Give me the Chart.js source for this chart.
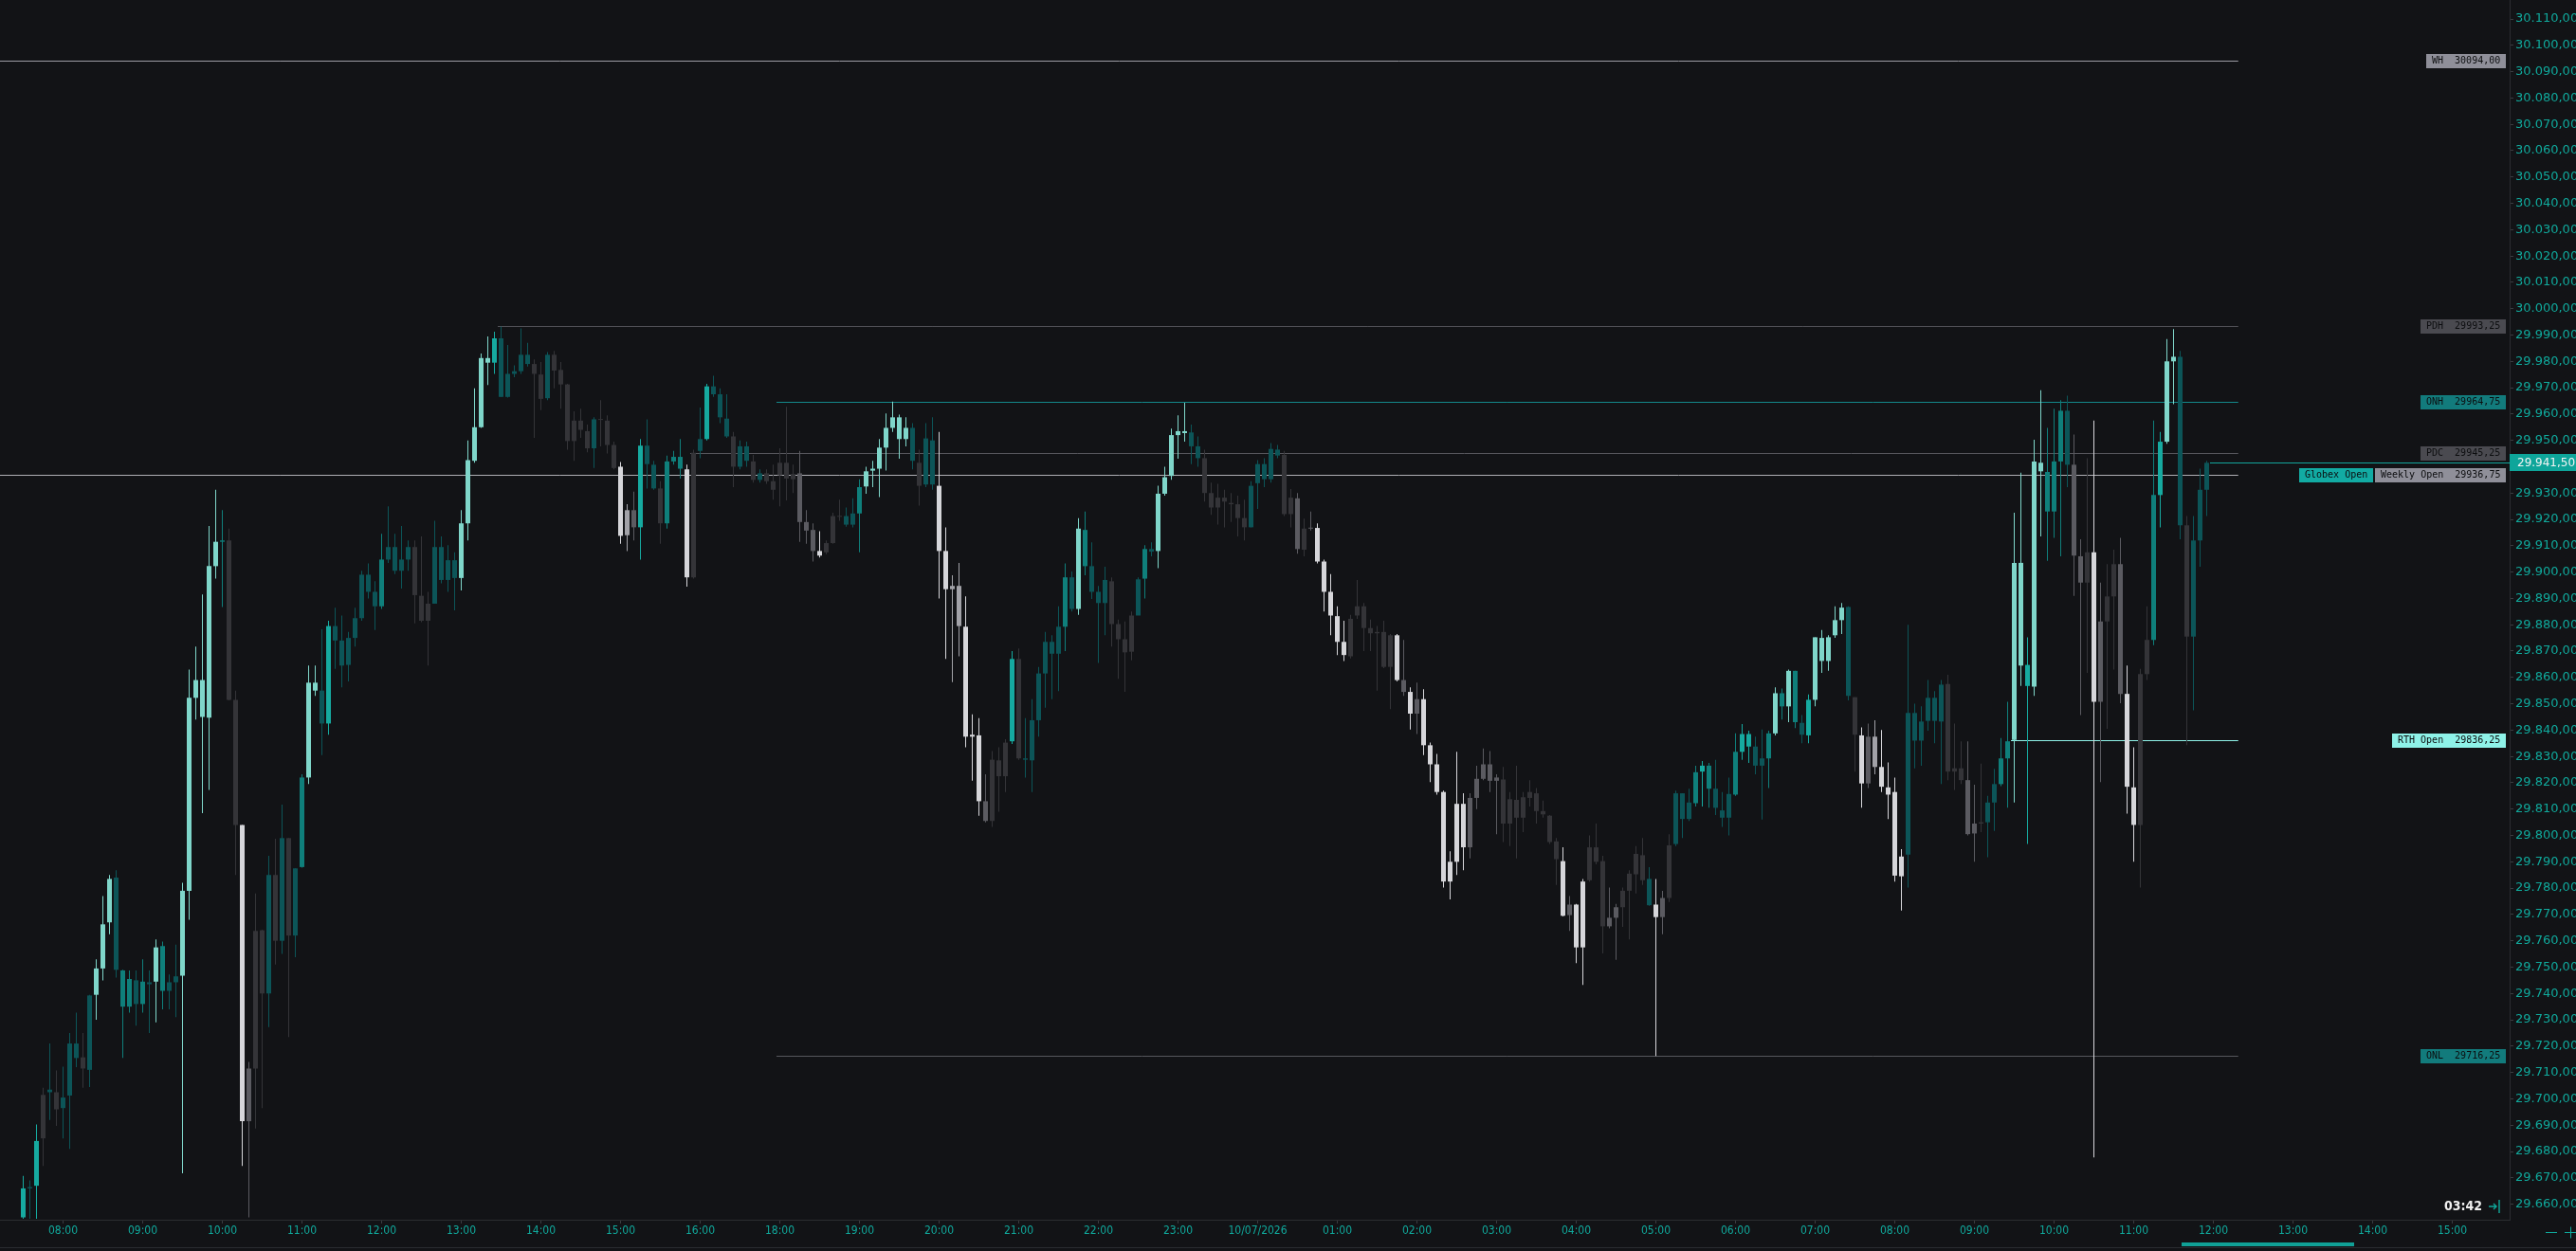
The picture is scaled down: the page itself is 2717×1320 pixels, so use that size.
<!DOCTYPE html>
<html>
<head>
<meta charset="utf-8">
<title>NQ 5m</title>
<script src="https://cdn.jsdelivr.net/npm/chart.js@4.4.1/dist/chart.umd.min.js"></script>
<style>
  html, body { margin: 0; padding: 0; background: #121316; overflow: hidden; }
  canvas { display: block; }
</style>
</head>
<body>
<canvas id="chart" width="2717" height="1320"></canvas>
<script>
// --- Data: 5 minute bars, index 0 = 08:00 bar ---
const firstBar = -6;

const opens = [
  29655, 29666, 29667, 29685, 29702.5, 29702.5,
  29696.5, 29701.25, 29721, 29715.75, 29711, 29739.5, 29749.5, 29767, 29784, 29748.75, 29735, 29745,
  29736, 29744.25, 29744.5, 29758, 29741, 29744.25, 29746.75, 29779, 29852.25, 29859, 29844.75, 29902.25,
  29911.5, 29912, 29851.5, 29804, 29691.5, 29711.5, 29764, 29740, 29785, 29760, 29799, 29762,
  29788, 29822, 29858, 29855, 29842.5, 29879.5, 29874, 29864.75, 29875, 29882.5, 29899, 29892.5,
  29887, 29904.75, 29909.5, 29900.5, 29904.75, 29909.5, 29891, 29881.5, 29888, 29909.5, 29897, 29904.5,
  29897.75, 29918.5, 29942.25, 29955, 29981.25, 29979.5, 29988.75, 29966.5, 29975.25, 29976.25, 29982.5, 29979,
  29975, 29966, 29982.5, 29976.75, 29971.25, 29949.75, 29957.5, 29953.5, 29947, 29958, 29957.5, 29948.25,
  29940, 29914, 29923.5, 29917, 29948, 29940.75, 29931.75, 29918.5, 29942, 29943.75, 29939, 29898,
  29946, 29950.5, 29970.5, 29967.5, 29958.25, 29951.5, 29940, 29947.75, 29942, 29935, 29937.5, 29934.5,
  29936.75, 29941.5, 29935.25, 29937.5, 29919, 29916, 29908, 29907.5, 29911, 29921.25, 29921.25, 29918,
  29922.25, 29932.5, 29938.5, 29939.25, 29947.25, 29954.75, 29958.75, 29950.5, 29954.75, 29941.5, 29933.25, 29950,
  29932.75, 29908, 29893.5, 29894.75, 29879.25, 29837.5, 29838, 29813, 29805.5, 29828.5, 29822.5, 29835.75,
  29867, 29829.25, 29828.5, 29843.75, 29861.5, 29873.5, 29869, 29879.25, 29898, 29886, 29916, 29902.25,
  29892.5, 29888.25, 29896.5, 29880.25, 29874.5, 29869.75, 29883.5, 29897.5, 29908.75, 29908, 29929.75, 29936.5,
  29952, 29953.5, 29953, 29947.75, 29943.25, 29930, 29924.5, 29928.25, 29926.25, 29925.75, 29920.5, 29917,
  29933.75, 29941, 29935.25, 29946.5, 29944.5, 29922, 29928, 29908.5, 29916.5, 29916.75, 29904, 29892.5,
  29883.25, 29873.5, 29868, 29883.5, 29887, 29878.75, 29876.75, 29877.25, 29864, 29876, 29859, 29854.5,
  29846.25, 29851.75, 29834.25, 29827, 29816.5, 29782.5, 29790, 29812, 29795.5, 29814.25, 29821.5, 29827,
  29820.75, 29821.25, 29804.5, 29813.5, 29806.75, 29814.25, 29816, 29809.25, 29807.5, 29797.75, 29790.25, 29769.75,
  29773.75, 29757.5, 29783, 29795.5, 29790.25, 29765.5, 29768.75, 29772.75, 29779, 29785.25, 29792.5, 29783.5,
  29773.75, 29769, 29776.25, 29796.75, 29816, 29806.25, 29812.25, 29824.25, 29826.5, 29817.75, 29809.5, 29806.75,
  29815.5, 29831.75, 29838.5, 29833.75, 29826.5, 29829.25, 29838.75, 29854, 29849, 29862.5, 29842.75, 29838,
  29851.5, 29875, 29866.25, 29876, 29881.75, 29886.75, 29852.5, 29838, 29819.75, 29837.5, 29826, 29818.25,
  29816.5, 29784.5, 29792.75, 29846.5, 29836, 29843.5, 29852.25, 29843.25, 29857.5, 29824.25, 29825.5, 29821,
  29800.75, 29804.5, 29805, 29812.5, 29819.5, 29829.25, 29836.25, 29903.5, 29864.75, 29856.5, 29941.5, 29938,
  29923, 29942, 29961.25, 29940.75, 29906, 29896, 29907.5, 29850.75, 29881.25, 29890.75, 29903, 29853.75,
  29818.25, 29804, 29861.25, 29874.25, 29929.25, 29949.5, 29980, 29981.75, 29917.75, 29875.5, 29912, 29931.25
];

const highs = [
  29670.75, 29669, 29690.25, 29704.25, 29721, 29710.75,
  29712.25, 29725, 29732.75, 29725, 29739.5, 29753, 29777, 29785, 29786.75, 29749, 29748.75, 29748.75,
  29753, 29748.75, 29760.5, 29759.75, 29747.25, 29758.5, 29782, 29863, 29871.75, 29891.5, 29917.5, 29931.25,
  29923.5, 29916.5, 29855, 29804, 29714, 29778, 29764.25, 29792.25, 29798.75, 29811.75, 29799, 29787.5,
  29823.25, 29864.5, 29864.5, 29878.25, 29881.5, 29886.5, 29883.5, 29877.25, 29886.5, 29900.5, 29903.25, 29896.5,
  29914.5, 29925, 29914.5, 29917.5, 29912, 29912, 29913.5, 29892.5, 29919.5, 29913.5, 29910.25, 29907.5,
  29923.5, 29950, 29969.75, 29983, 29989.5, 29991.25, 29993.25, 29986.25, 29978.5, 29992.5, 29987, 29980.75,
  29979.75, 29983.5, 29984, 29979.75, 29971.5, 29961, 29962, 29956, 29958.75, 29965.25, 29959.5, 29949.5,
  29941.75, 29925.75, 29930.5, 29950.5, 29958, 29942.25, 29934.5, 29944.25, 29946, 29950.5, 29940.75, 29946.5,
  29962.5, 29971.5, 29974.5, 29969.75, 29967.5, 29953.25, 29950, 29949.5, 29944.5, 29939, 29939, 29940.75,
  29947, 29962.75, 29940.75, 29946, 29923.5, 29918.5, 29915.5, 29912, 29922.5, 29927.5, 29924.5, 29928,
  29935.25, 29940, 29942.25, 29950.5, 29960.25, 29964.75, 29959.75, 29958.75, 29956.5, 29946.5, 29956.5, 29958.75,
  29953.25, 29917, 29898.75, 29903.5, 29890.75, 29846, 29844.5, 29823.25, 29832, 29833.5, 29836.5, 29870,
  29871, 29844.5, 29851.75, 29864, 29877.25, 29876, 29887, 29903.25, 29900.25, 29920.5, 29923, 29911.25,
  29894.75, 29902, 29898, 29882, 29881.25, 29885, 29898, 29910.25, 29911.25, 29932.75, 29940, 29954.5,
  29959.5, 29964.25, 29956, 29951.5, 29946.5, 29934, 29933.5, 29931.25, 29930, 29929, 29927.5, 29934.5,
  29942.5, 29943.25, 29949, 29948.25, 29946, 29931.5, 29930, 29920.25, 29923, 29918.5, 29904.75, 29899.25,
  29887, 29881.5, 29883.75, 29897, 29888.25, 29882, 29879.5, 29881.5, 29876.5, 29876.5, 29874.25, 29856.25,
  29858, 29855.5, 29835.25, 29831, 29817, 29794, 29831.75, 29816, 29816, 29826.5, 29833, 29832,
  29823.25, 29826, 29816.5, 29826.5, 29816.5, 29821, 29818, 29813.25, 29807.75, 29799, 29795.5, 29777,
  29774, 29783.5, 29800, 29804.5, 29792.25, 29780.25, 29774, 29780.25, 29786.75, 29796, 29799, 29788,
  29783.5, 29779, 29800.5, 29817, 29816, 29817.75, 29826.5, 29828.25, 29827.5, 29828.75, 29816.5, 29822,
  29838.75, 29842.25, 29839.75, 29837.5, 29840.25, 29839.75, 29856.25, 29855.75, 29863, 29862.5, 29845.75, 29853.5,
  29875.25, 29878, 29876, 29887, 29888.25, 29887, 29852.5, 29841, 29842.5, 29843.75, 29840, 29827.75,
  29822, 29794.75, 29880, 29850, 29849, 29859, 29854.75, 29859, 29861, 29842.5, 29835.75, 29835.75,
  29819.25, 29827.25, 29815, 29825.25, 29837, 29850.75, 29922.5, 29937.75, 29875.25, 29950.25, 29969, 29954.75,
  29962, 29965.25, 29967, 29952.25, 29912.5, 29943.25, 29957.5, 29896, 29903, 29908.5, 29913, 29864.5,
  29833.5, 29863.25, 29887, 29957.5, 29953.25, 29988.5, 29992.25, 29984, 29921.25, 29921.25, 29939.25, 29942.25
];

const lows = [
  29654.5, 29654.5, 29654.5, 29674.5, 29692, 29689.75,
  29685, 29681, 29712, 29704.25, 29704.5, 29730, 29745, 29762.5, 29746, 29715.5, 29732.75, 29727.75,
  29732.75, 29725, 29729, 29734, 29734, 29731, 29671.75, 29768, 29844, 29808.5, 29817.25, 29897.5,
  29886.75, 29851.25, 29785, 29674.5, 29655, 29688.75, 29696.5, 29727.25, 29751, 29755, 29723.5, 29753.75,
  29787.75, 29819.5, 29853, 29830.5, 29838.25, 29863.25, 29856.25, 29858.5, 29871.75, 29881.5, 29890, 29878,
  29886, 29903.5, 29899.25, 29893.75, 29900.5, 29880.5, 29881, 29864.5, 29888, 29895.75, 29892.5, 29885.5,
  29893, 29912, 29941.5, 29954.75, 29971, 29975.25, 29966.5, 29966.25, 29974, 29975.25, 29978, 29951,
  29961.5, 29965.25, 29969.75, 29962, 29946.5, 29942.25, 29951, 29945.5, 29939.5, 29947.75, 29945, 29939,
  29910.75, 29908, 29912, 29904.75, 29931.75, 29931.25, 29910.75, 29916.5, 29940.75, 29935.5, 29894.5, 29897.5,
  29943.25, 29950, 29966.5, 29956.5, 29951, 29932.25, 29939, 29940, 29934, 29934, 29933.5, 29927.5,
  29925, 29927.25, 29930, 29911.5, 29910.75, 29904, 29905.5, 29906.75, 29910.75, 29919.5, 29917.25, 29917,
  29907.5, 29929.75, 29932.25, 29928.5, 29938.5, 29953.25, 29943, 29947.75, 29939, 29925.25, 29932.25, 29931.25,
  29890, 29867, 29858.25, 29868, 29833.5, 29820.75, 29807.5, 29805, 29803.25, 29809, 29816.5, 29834.75,
  29828.75, 29822, 29816.5, 29837.5, 29848.5, 29851.75, 29854.75, 29870, 29885, 29883.75, 29898.75, 29889.75,
  29865.5, 29876, 29871.75, 29859.5, 29854.5, 29866.5, 29883.75, 29890, 29906, 29901.5, 29929, 29935,
  29943, 29949.5, 29941, 29940, 29926.75, 29921.75, 29918, 29917, 29919, 29913.5, 29912, 29917,
  29924, 29932.25, 29934, 29943.25, 29921.25, 29917, 29907, 29906, 29915.75, 29903.25, 29885, 29876,
  29868.5, 29866.25, 29867.25, 29882.25, 29870, 29870, 29855, 29863.5, 29848, 29858.5, 29853, 29840.25,
  29838.5, 29830.5, 29820.25, 29815.5, 29780.25, 29775.75, 29785, 29786.75, 29791.25, 29810, 29821, 29816.5,
  29800.5, 29797.5, 29796, 29791.25, 29801.25, 29811, 29804.5, 29806.75, 29796.75, 29781.25, 29769.25, 29763.75,
  29751.5, 29743.25, 29782.5, 29789, 29755.25, 29764.75, 29752.75, 29765.25, 29760.5, 29778, 29781.25, 29773.25,
  29716.25, 29762.5, 29774.75, 29796, 29799, 29805.5, 29811, 29811, 29810.5, 29807.75, 29803.25, 29800,
  29815, 29828.75, 29827.5, 29823.25, 29806, 29818, 29838, 29844, 29843, 29840.75, 29835, 29835,
  29849, 29861.75, 29862.5, 29875, 29876.5, 29851.25, 29824.25, 29810.5, 29818, 29823.25, 29816.5, 29806.25,
  29782.5, 29771.5, 29780.25, 29825.5, 29826.5, 29839.75, 29835, 29819.5, 29821, 29817.25, 29819.5, 29800,
  29790, 29801.25, 29791.75, 29801.75, 29818.75, 29810.5, 29812.5, 29856.75, 29796.75, 29853, 29913.5, 29904.25,
  29913, 29906, 29932.25, 29891, 29845.75, 29861.75, 29677.75, 29820.25, 29840.5, 29863, 29850.25, 29808.25,
  29790, 29780.25, 29859, 29872.25, 29917, 29948.75, 29963.75, 29912.5, 29834.25, 29847.5, 29902, 29921.25
];

const closes = [
  29666, 29666.5, 29684, 29701.5, 29703.5, 29696,
  29700.5, 29721, 29715.5, 29711.5, 29739.25, 29749.5, 29766.25, 29783.5, 29749, 29735, 29745.5, 29736,
  29744.5, 29743.5, 29757.5, 29741, 29744.25, 29746.5, 29779, 29852.25, 29859, 29845, 29902.25, 29911.5,
  29912, 29851.5, 29804, 29691.5, 29711.5, 29763.75, 29740, 29785, 29760, 29799, 29762, 29787.5,
  29822, 29858, 29855, 29842.5, 29879.5, 29874, 29864.5, 29875, 29882.5, 29899, 29892.5, 29887,
  29904.75, 29909.5, 29900.5, 29904.75, 29909.5, 29891.25, 29881.5, 29888, 29909.5, 29897, 29904.5, 29897.75,
  29918.5, 29942.5, 29955, 29981.25, 29979.5, 29988.75, 29966.5, 29975.25, 29976.25, 29982.5, 29979, 29975.25,
  29965.75, 29982.5, 29976.5, 29971.25, 29949.75, 29957.5, 29954, 29947, 29958, 29957.75, 29948.25, 29939.5,
  29913.75, 29923.5, 29917, 29948, 29941, 29931.75, 29918.5, 29942, 29943.75, 29939.25, 29898, 29945.25,
  29950.5, 29970.5, 29967.5, 29958.75, 29951.5, 29940, 29947.75, 29942.25, 29935, 29937.5, 29934.5, 29931.25,
  29941.5, 29935.5, 29937.25, 29919, 29915.75, 29908, 29906.25, 29911, 29921.25, 29921, 29918, 29922.25,
  29932.25, 29938.25, 29939.25, 29947.25, 29954.75, 29958.75, 29950.5, 29954.75, 29942.25, 29932.75, 29950.75, 29933.25,
  29908, 29893.5, 29894.75, 29879.5, 29837.5, 29838.25, 29813, 29805.5, 29828.75, 29822.5, 29835.25, 29867,
  29829.25, 29828.75, 29843.75, 29861.5, 29873.5, 29869, 29879.25, 29898, 29886, 29916.5, 29902.25, 29892.5,
  29888.25, 29897, 29880.25, 29874.5, 29869.5, 29883.5, 29897.25, 29908.75, 29907.75, 29929.75, 29936, 29952,
  29953.5, 29952.75, 29947.75, 29943.25, 29930, 29924.5, 29928.25, 29926.75, 29925.75, 29920.5, 29917, 29932.75,
  29941, 29935.25, 29946.75, 29944.25, 29922, 29928.25, 29908.75, 29916.5, 29916.75, 29904, 29892.5, 29883.5,
  29873.5, 29868.5, 29882.25, 29887, 29878.75, 29876.75, 29877.25, 29864, 29876, 29859, 29854.5, 29846.25,
  29851.75, 29834.25, 29827, 29816.5, 29782.5, 29790, 29812, 29795.5, 29814.25, 29821.5, 29827, 29820.75,
  29822, 29804.5, 29813.75, 29806.75, 29814.5, 29816.5, 29809.25, 29808, 29797.5, 29791, 29769.5, 29773.75,
  29757.5, 29782.5, 29795.5, 29790, 29765.5, 29768.75, 29772.75, 29779, 29785.5, 29793, 29783, 29773.5,
  29769, 29776.25, 29796.25, 29816, 29806.25, 29812.5, 29824, 29826.5, 29817.75, 29810.5, 29806.75, 29815.75,
  29831.75, 29838.5, 29833.75, 29826.5, 29829.25, 29838.75, 29854, 29849, 29862.5, 29843, 29838.25, 29851.5,
  29875.25, 29866.25, 29875.25, 29881.75, 29886.5, 29853, 29838.25, 29819.75, 29837.5, 29826, 29818.5, 29815.5,
  29784.75, 29792, 29846.5, 29836, 29843.25, 29852.25, 29843.5, 29857.25, 29824.25, 29825.5, 29821, 29800.5,
  29804.5, 29805, 29812.5, 29819.5, 29829.25, 29835.75, 29903.5, 29864.5, 29856.75, 29942, 29938.25, 29923,
  29942, 29961.25, 29940.75, 29906.25, 29896, 29907.5, 29850.75, 29881.25, 29890.75, 29903, 29853.75, 29818.5,
  29804, 29861.25, 29874.25, 29929.25, 29949.5, 29980, 29981.75, 29917.75, 29875.5, 29912, 29931.25, 29941.5
];

// bar delta strength: + buyers (teal shades), - sellers (grey shades)
const deltaLevels = [
  3, 1, 3, -1, 1, -1,
  1, 1, 1, -1, 1, 4, 4, 4, 1, 2, 2, 1,
  2, 1, 4, 2, 1, 1, 4, 4, 4, 4, 4, 4,
  2, -1, -1, -4, -2, -1, -1, 1, -1, 1, -1, 1,
  2, 4, 4, 1, 3, 1, 1, 1, 1, 1, 1, 1,
  2, 1, 1, 1, 1, -1, -1, -1, 1, 1, 1, 1,
  4, 4, 4, 4, 4, 3, 1, 1, 1, 1, 1, -1,
  -1, 1, -1, -1, -1, -1, -1, -1, 1, -1, -1, -1,
  -4, -3, -2, 3, 1, 1, -1, 2, 2, 2, -4, -1,
  1, 3, 1, 1, 1, -1, 1, 1, -1, 1, -1, -1,
  -1, -1, -1, -2, -2, -2, -4, -1, -1, -1, 1, 1,
  2, 4, 4, 4, 4, 4, 4, 4, 1, -1, 1, 1,
  -4, -4, -3, -3, -4, -4, -4, -2, -1, -1, -1, 3,
  -1, 1, 1, 1, 1, 1, 1, 2, 1, 4, 2, 1,
  1, 1, -1, -1, -1, -1, 1, 2, 1, 4, 4, 4,
  4, 4, 1, 1, -1, -1, -1, -1, -1, -1, -1, 1,
  1, 1, 1, 1, -1, -1, -2, -1, -2, -4, -4, -4,
  -4, -4, -1, -1, -1, -1, -1, -1, -1, -4, -2, -4,
  -2, -4, -4, -4, -4, -4, -4, -4, -2, -2, -2, -2,
  -2, -1, -1, -1, -1, -1, -1, -1, -1, -1, -4, -2,
  -4, -4, -1, -1, -1, -2, -2, -1, -1, -1, -1, 1,
  -4, -2, -1, 1, 1, 1, 2, 3, 2, 1, 1, 1,
  2, 3, 3, 1, 1, 2, 4, 2, 4, 2, 1, 3,
  4, 4, 4, 4, 4, 1, -1, -4, -2, -3, -4, -4,
  -4, -4, 1, 1, 1, 1, 1, 1, -1, -1, -1, -2,
  -2, -1, 1, 1, 2, 2, 4, 4, 3, 4, 4, 2,
  2, 2, 1, -2, -2, -1, -4, -2, -1, -1, -2, -4,
  -4, -1, -1, 2, 3, 4, 4, 1, -1, 1, 1, 1
];

// time axis (bar index of each label)
const timeTickBars = [0, 12, 24, 36, 48, 60, 72, 84, 96, 108, 120, 132, 144, 156, 168, 180,
  192, 204, 216, 228, 240, 252, 264, 276, 288, 300, 312, 324, 336, 348, 360];
const timeTickLabels = ['08:00', '09:00', '10:00', '11:00', '12:00', '13:00', '14:00', '15:00', '16:00',
  '18:00', '19:00', '20:00', '21:00', '22:00', '23:00', '10/07/2026', '01:00', '02:00', '03:00',
  '04:00', '05:00', '06:00', '07:00', '08:00', '09:00', '10:00', '11:00', '12:00', '13:00', '14:00', '15:00'];

// price axis
const priceMin = 29654.1;
const priceMax = 30117.2;
const priceTickFirst = 29660;
const priceTickLast = 30110;
const priceTickStep = 10;

// key levels
const levelNames = ['WH', 'PDH', 'ONH', 'PDC', 'Weekly Open', 'RTH Open', 'ONL'];
const levelPrices = [30094.00, 29993.25, 29964.75, 29945.25, 29936.75, 29836.25, 29716.25];
const levelStartBars = [null, 65.5, 107.5, 94.5, null, 293.5, 107.5];
const levelEndBar = 327.75;
const globexOpenTag = 'Globex Open';
const lastPrice = 29941.50;
const barCountdown = '03:42';

// --- Styles ---
const BG = '#121316';
const TEAL_TEXT = '#10a99c';
const shadeColors = {
  '4': '#7fd6ca', '3': '#16aaa0', '2': '#0f7f7b', '1': '#0c5558',
  '-1': '#343438', '-2': '#5b5b61', '-3': '#a2a2a8', '-4': '#d6d6da'
};
const levelLineColors = ['#9c9ca4', '#505056', '#13898a', '#56565c', '#aeaeb4', '#8ef2e8', '#56565c'];
const levelBoxColors = ['#8f8f99', '#4a4a50', '#127b7c', '#4a4a50', '#8f8f99', '#8ef2e8', '#127b7c'];
const globexBoxColor = '#12aba3';

function fmtAxis(v) {
  const parts = v.toFixed(2).split('.');
  return parts[0].replace(/\B(?=(\d{3})+(?!\d))/g, '.') + ',' + parts[1];
}
function fmtLevel(v) {
  return v.toFixed(2).replace('.', ',');
}

const n = Math.min(opens.length, highs.length, lows.length, closes.length, deltaLevels.length);
const bodyData = [], wickData = [], barColors = [];
for (let i = 0; i < n; i++) {
  bodyData.push({ x: firstBar + i, y: [opens[i], closes[i]] });
  wickData.push({ x: firstBar + i, y: [lows[i], highs[i]] });
  barColors.push(shadeColors[String(deltaLevels[i])]);
}

const priceTicks = [];
for (let v = priceTickFirst; v <= priceTickLast; v += priceTickStep) priceTicks.push(v);

// --- Plugin: background, levels, labels, price tag ---
const overlay = {
  id: 'overlay',
  beforeDraw(chart) {
    const ctx = chart.ctx;
    ctx.save();
    ctx.fillStyle = BG;
    ctx.fillRect(0, 0, chart.width, chart.height);
    ctx.restore();
  },
  beforeDatasetsDraw(chart) {
    const { ctx, chartArea: area, scales: { x, y } } = chart;
    ctx.save();
    ctx.beginPath();
    ctx.rect(area.left, area.top, area.right - area.left, area.bottom - area.top);
    ctx.clip();
    ctx.lineWidth = 1;
    levelNames.forEach((name, i) => {
      const py = Math.round(y.getPixelForValue(levelPrices[i])) + 0.5;
      const x0 = levelStartBars[i] === null ? area.left : x.getPixelForValue(levelStartBars[i]);
      const x1 = x.getPixelForValue(levelEndBar);
      ctx.strokeStyle = levelLineColors[i];
      ctx.beginPath();
      ctx.moveTo(x0, py);
      ctx.lineTo(x1, py);
      ctx.stroke();
    });
    // last price line
    const lp = Math.round(y.getPixelForValue(lastPrice)) + 0.5;
    ctx.strokeStyle = '#12a59c';
    ctx.beginPath();
    ctx.moveTo(x.getPixelForValue(firstBar + n - 0.5), lp);
    ctx.lineTo(area.right, lp);
    ctx.stroke();
    ctx.restore();
  },
  afterDraw(chart) {
    const { ctx, chartArea: area, scales: { y } } = chart;
    ctx.save();
    ctx.font = '10px "DejaVu Sans Mono", monospace';
    ctx.textBaseline = 'middle';
    ctx.textAlign = 'left';
    const boxH = 15;
    levelNames.forEach((name, i) => {
      const py = Math.round(y.getPixelForValue(levelPrices[i]));
      const text = name + '  ' + fmtLevel(levelPrices[i]);
      const w = Math.round(ctx.measureText(text).width) + 12;
      const bx = area.right - 4 - w;
      const by = py - 7;
      ctx.fillStyle = levelBoxColors[i];
      ctx.fillRect(bx, by, w, boxH);
      ctx.fillStyle = '#0c0d0f';
      ctx.fillText(text, bx + 6, py + 0.5);
      if (name === 'Weekly Open') {
        const gw = Math.round(ctx.measureText(globexOpenTag).width) + 12;
        const gx = bx - 2 - gw;
        ctx.fillStyle = globexBoxColor;
        ctx.fillRect(gx, by, gw, boxH);
        ctx.fillStyle = '#0c0d0f';
        ctx.fillText(globexOpenTag, gx + 6, py + 0.5);
      }
    });

    // last price tag on the axis
    const lp = Math.round(y.getPixelForValue(lastPrice));
    ctx.fillStyle = '#0ea59a';
    ctx.fillRect(area.right, lp - 9, chart.width - area.right, 18);
    ctx.fillStyle = '#f2f4f4';
    ctx.font = '12px "DejaVu Sans", sans-serif';
    ctx.fillText(fmtAxis(lastPrice), area.right + 8, lp + 0.5);

    // bar countdown
    ctx.font = 'bold 14px "DejaVu Sans Condensed", "Liberation Sans Narrow", "DejaVu Sans", sans-serif';
    ctx.textAlign = 'right';
    ctx.fillStyle = '#f0f0f0';
    ctx.fillText(barCountdown, area.right - 29, area.bottom - 14);
    ctx.strokeStyle = TEAL_TEXT;
    ctx.lineWidth = 1.4;
    const ay = area.bottom - 14;
    const ax = area.right - 22;
    ctx.beginPath();
    ctx.moveTo(ax, ay); ctx.lineTo(ax + 8, ay);
    ctx.moveTo(ax + 5, ay - 3); ctx.lineTo(ax + 8, ay); ctx.lineTo(ax + 5, ay + 3);
    ctx.moveTo(ax + 11, ay - 7); ctx.lineTo(ax + 11, ay + 7);
    ctx.stroke();

    // zoom controls
    ctx.lineWidth = 1;
    ctx.strokeStyle = TEAL_TEXT;
    const zy = area.bottom + 13.5;
    ctx.beginPath();
    ctx.moveTo(area.right + 38, zy); ctx.lineTo(area.right + 50, zy);
    ctx.moveTo(area.right + 58, zy); ctx.lineTo(area.right + 70, zy);
    ctx.moveTo(area.right + 64.5, zy - 6); ctx.lineTo(area.right + 64.5, zy + 6);
    ctx.stroke();

    // scrollbar
    ctx.fillStyle = '#2a2c30';
    ctx.fillRect(0, chart.height - 4, chart.width, 1);
    ctx.fillStyle = '#10a096';
    ctx.fillRect(2301, chart.height - 9, 182, 4);
    ctx.restore();
  }
};

new Chart(document.getElementById('chart'), {
  type: 'bar',
  data: {
    datasets: [
      {
        label: 'body',
        data: bodyData,
        backgroundColor: barColors,
        barThickness: 5,
        minBarLength: 1,
        borderWidth: 0,
        inflateAmount: 0,
        grouped: false
      },
      {
        label: 'wick',
        data: wickData,
        backgroundColor: barColors,
        barThickness: 1,
        minBarLength: 1,
        borderWidth: 0,
        inflateAmount: 0,
        grouped: false
      }
    ]
  },
  options: {
    responsive: false,
    animation: false,
    devicePixelRatio: 1,
    layout: { padding: 0 },
    plugins: { legend: { display: false }, tooltip: { enabled: false } },
    scales: {
      x: {
        type: 'linear',
        offset: false,
        min: -9.5,
        max: -9.5 + 2647 / 7,
        grid: { offset: false, drawOnChartArea: false, drawTicks: true, tickLength: 4, color: '#3a3c40' },
        border: { color: '#2b2d31' },
        ticks: {
          color: TEAL_TEXT,
          font: { family: '"DejaVu Sans Condensed", "Liberation Sans Narrow", "DejaVu Sans"', size: 12 },
          padding: 1,
          autoSkip: false,
          maxRotation: 0,
          callback: (value) => {
            const k = timeTickBars.indexOf(value);
            return k >= 0 ? timeTickLabels[k] : '';
          }
        },
        afterBuildTicks: (scale) => { scale.ticks = timeTickBars.map(v => ({ value: v })); },
        afterFit: (scale) => {
          scale.height = 33;
          scale.paddingLeft = 0;
          scale.paddingRight = 0;
        }
      },
      y: {
        type: 'linear',
        position: 'right',
        min: priceMin,
        max: priceMax,
        beginAtZero: false,
        grid: { drawOnChartArea: false, drawTicks: true, tickLength: 4, color: '#3a3c40' },
        border: { color: '#2b2d31' },
        ticks: {
          color: TEAL_TEXT,
          font: { family: '"DejaVu Sans"', size: 13 },
          padding: 2,
          autoSkip: false,
          callback: (value) => fmtAxis(value)
        },
        afterBuildTicks: (scale) => { scale.ticks = priceTicks.map(v => ({ value: v })); },
        afterFit: (scale) => {
          scale.width = 70;
          scale.paddingTop = 0;
          scale.paddingBottom = 0;
        }
      }
    }
  },
  plugins: [overlay]
});
</script>
</body>
</html>
